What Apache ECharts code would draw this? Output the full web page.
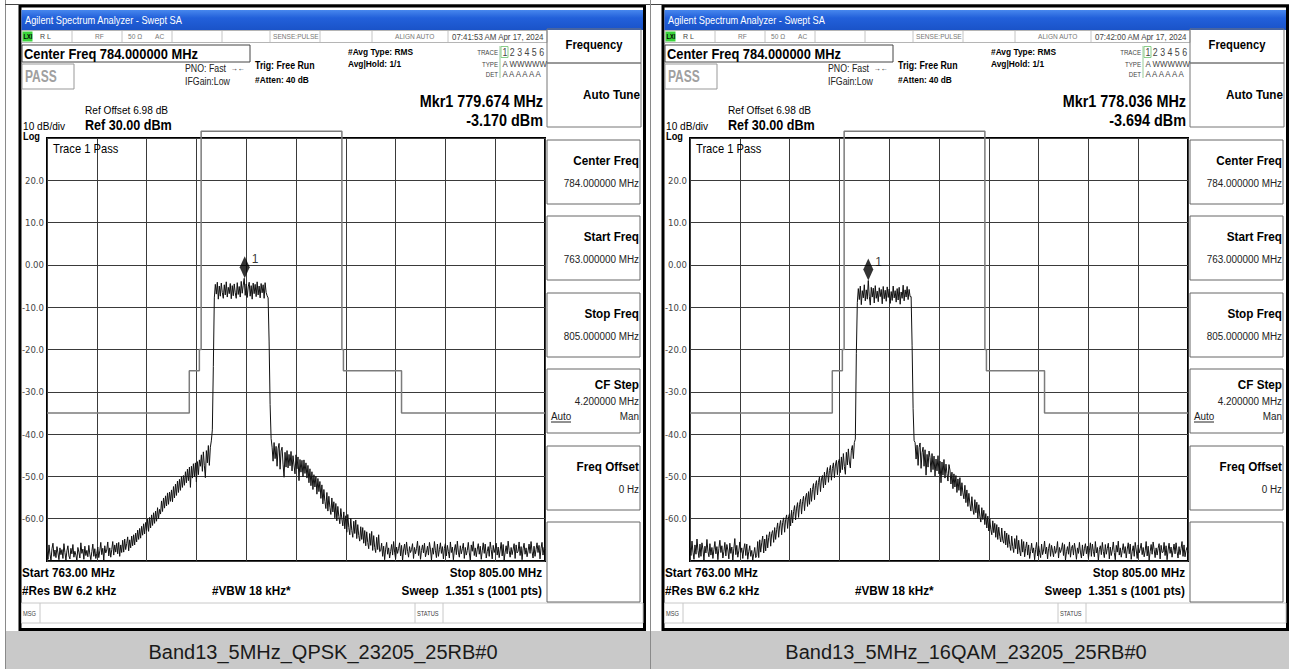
<!DOCTYPE html>
<html><head><meta charset="utf-8">
<script src="https://cdn.jsdelivr.net/npm/echarts@6/dist/echarts.min.js"></script>
<style>html,body{margin:0;padding:0;background:#fff;}#c{width:1289px;height:669px;}</style>
</head><body><div id="c"></div>
<script>
// ---------------- data ----------------
const FREQ_START = 763, FREQ_STOP = 805, SWEEP_STEP = 0.084; // every 2nd of the 1001 sweep points
const captions = ['Band13_5MHz_QPSK_23205_25RB#0', 'Band13_5MHz_16QAM_23205_25RB#0'];
const timestamps = ['07:41:53 AM Apr 17, 2024', '07:42:00 AM Apr 17, 2024'];
const markerFreqs = [779.674, 778.036];
const markerLevels = [-3.170, -3.694];
const limitFreqs  = [763, 775, 775, 775.85, 775.85, 776.0, 776.0, 787.87, 787.87, 788.0, 788.0, 792.9, 792.9, 805];
const limitLevels = [-35, -35, -25, -25, -20, -20, 31.6, 31.6, -20, -20, -25, -25, -35, -35];
const softkeyTitles = ['Center Freq', 'Start Freq', 'Stop Freq', 'CF Step', 'Freq Offset'];
const softkeyValues = ['784.000000 MHz', '763.000000 MHz', '805.000000 MHz', '4.200000 MHz', '0 Hz'];

const traceQPSK = [
-67.8,-69.6,-66.2,-68.4,-69.9,-67.1,-65.8,-68.9,-67.4,-69.2,
-66.6,-68.1,-69.7,-66.9,-68.5,-67.3,-69.4,-65.9,-68.0,-69.8,
-67.6,-66.4,-68.8,-69.5,-67.0,-68.3,-66.1,-69.1,-67.7,-68.6,
-69.9,-66.8,-67.9,-69.3,-65.7,-68.2,-67.2,-69.6,-66.5,-68.7,
-67.5,-69.0,-66.3,-68.4,-69.7,-67.8,-66.0,-68.9,-67.1,-69.4,
-68.2,-66.7,-69.2,-67.6,-65.6,-68.5,-67.0,-69.8,-66.4,-68.1,
-67.4,-65.5,-68.8,-66.9,-69.1,-67.3,-65.4,-68.6,-66.2,-67.9,
-65.8,-68.3,
-65.6,-68.9,-66.2,-68.0,-65.1,-67.9,-64.8,-67.3,-65.9,-64.3,-67.6,-65.0,-66.9,-64.1,-66.4,-63.8,
-66.2,-63.4,-65.5,-62.7,-64.9,-62.3,-64.6,-61.8,-63.9,-61.2,-63.6,-60.9,-62.8,
-60.1,-63.0,-59.7,-62.2,-59.1,-61.6,-58.6,-61.1,-58.2,-60.6,-57.4,-60.0,-57.8,
-58.9,-55.8,-58.3,-55.1,-57.5,-54.6,-57.0,-53.9,-56.6,-53.7,-55.9,
-53.2,-56.0,-52.4,-55.1,-51.8,-54.5,-51.1,-53.8,-50.7,-53.3,-50.0,-52.6,-49.8,
-52.1,-48.9,-51.5,-48.3,-51.0,-47.8,-52.6,-47.6,-50.4,-47.0,-50.1,-46.8,-51.3,-46.5,-49.6,-46.1,
-47.6,-44.9,-48.8,-44.2,-47.5,-50.3,-43.9,-46.8,-42.7,-47.4,-43.1,-41.6,
-39.0,-24.0,
-7.8,-4.6,-6.9,-4.1,-8.1,-5.0,-7.4,-4.3,-6.5,-7.9,
-4.7,-7.1,-4.0,-7.6,-5.3,-6.8,-4.4,-8.0,-4.9,-7.3,
-4.5,-6.6,-7.9,-4.2,-7.0,-5.1,-7.6,-3.9,-6.7,-4.8,
-3.17,-7.2,-4.5,-7.7,-5.2,-4.1,-7.4,-4.9,-8.1,-4.3,
-6.8,-4.6,-7.5,-4.0,-7.1,-5.0,-7.8,-4.4,-6.6,-4.7,
-7.9,-4.2,-6.5,-7.3,
-7.8,-18.0,-33.0,-41.0,
-43.1,-46.4,-42.0,-45.8,-42.9,-47.6,-43.5,-42.2,-48.3,-44.0,-43.1,-47.1,-50.2,-44.3,-47.8,
-43.9,-48.0,-44.8,-47.5,-44.1,-48.7,-45.1,-47.3,-49.4,-44.9,-48.2,-45.4,-51.0,-46.0,-49.0,-46.2,-50.1,-46.1,-49.3,-46.8,
-50.4,-47.4,-51.5,-48.2,-52.2,-48.9,-53.1,-49.6,-52.5,-50.0,-54.2,-50.5,-53.6,-51.2,
-55.2,-52.0,-56.5,-53.1,-55.9,-57.6,-53.8,-58.2,-54.7,-57.3,-59.0,-55.1,-58.4,-56.0,-59.8,-56.4,-60.5,-57.1,-59.5,-61.2,-57.6,-60.0,
-61.7,-58.4,-62.4,-59.3,-63.2,-59.0,-62.1,-63.8,-59.9,-62.8,-64.4,-60.6,-63.5,-60.3,-64.7,-61.4,-64.0,-65.3,-61.9,
-64.9,-62.1,-65.8,-62.8,-66.4,-63.1,-65.6,-67.1,-63.5,-66.3,-63.0,-67.5,-64.0,-66.8,-68.0,-64.4,-67.3,-63.8,-67.8,
-67.6,-65.8,-68.9,-66.5,-69.7,-67.2,-65.6,-68.4,-66.9,-69.3,
-67.8,-66.1,-68.6,-65.4,-67.9,-69.5,-66.7,-68.2,-67.0,-65.7,
-68.8,-66.3,-69.9,-67.4,-66.0,-68.5,-65.5,-67.7,-69.1,-66.6,
-68.0,-67.3,-65.9,-69.4,-66.8,-68.3,-67.1,-65.3,-68.7,-66.4,
-69.6,-67.5,-66.2,-68.1,-65.8,-69.0,-67.9,-66.5,-68.6,-65.6,
-67.2,-69.8,-66.9,-68.4,-65.4,-67.6,-69.2,-66.0,-68.9,-67.3,
-65.7,-68.2,-66.6,-69.5,-67.0,-65.9,-68.8,-66.3,-67.8,-69.3,
-65.5,-68.0,-66.7,-69.7,-67.4,-66.1,-68.5,-65.3,-67.9,-69.1,
-66.4,-68.3,-67.1,-65.8,-69.4,-66.8,-68.6,-67.5,-65.6,-68.1,
-69.9,-66.2,-67.7,-65.4,-68.7,-66.9,-69.0,-67.2,-65.9,-68.4,
-66.5,-69.6,-67.6,-65.7,-68.2,-66.0,-69.3,-67.8,-66.6,-68.9,
-65.5,-67.3,-69.5,-66.3,-68.0,-67.0,-65.8,-68.6,-66.7,-69.2,
-67.4,-65.6,-68.8,-66.1,-69.8,-67.9,-66.4,-68.3,-65.3,-67.5,
-69.1,-66.8,-68.5,-67.2,-65.9,-69.4,-66.2,-68.1,-67.7,-65.5,
-68.7,-66.6,-69.7,-67.1,-65.8,-68.4,-66.9,-69.0,-67.6,-66.0,
-68.2,-65.4,-67.8,-69.3,-66.5,-68.9,-67.3,-65.7,-68.0,-66.3,
-69.5,-67.0,-65.6,-68.6,-66.8,-67.4
];

const trace16QAM = [
-66.9,-68.7,-65.3,-67.9,-69.6,-66.2,-68.4,-64.8,-67.5,-69.2,
-66.0,-68.9,-65.7,-67.2,-69.8,-66.5,-68.1,-64.9,-67.7,-69.0,
-65.9,-68.6,-66.8,-69.4,-67.3,-65.4,-68.3,-66.6,-69.7,-67.0,
-65.1,-68.0,-66.4,-69.3,-67.8,-65.6,-68.8,-66.1,-67.4,-69.5,
-65.8,-68.2,-66.7,-69.9,-67.1,-64.7,-68.5,-66.3,-69.1,-67.6,
-65.5,-68.0,-66.9,-69.4,-67.2,-65.9,-68.7,-66.0,-69.6,-67.8,
-66.4,-68.9,-67.5,-69.8,-68.3,-66.8,-69.2,
-68.7,-65.4,-69.2,-65.0,-67.9,-65.7,-64.1,-68.1,-64.8,-67.6,-63.8,-66.9,-64.4,-63.1,-66.5,-63.5,-62.8,
-65.6,-62.1,-64.9,-62.6,-61.0,-64.4,-61.7,-60.4,-63.8,-60.9,-59.8,-63.2,-60.2,-59.1,-62.3,-59.5,-58.8,
-61.7,-58.0,-61.0,-58.3,-56.9,-60.3,-57.5,-56.2,-59.7,-56.6,-55.4,-58.9,-56.0,-54.7,-58.1,-55.1,-54.0,
-57.1,-53.6,-56.6,-52.8,-55.9,-53.1,-51.7,-55.5,-52.1,-51.0,-54.4,-51.4,-50.1,-53.6,-50.6,-49.8,
-52.7,-49.0,-52.0,-49.5,-47.9,-51.4,-48.6,-47.4,-50.9,-48.1,-46.8,-50.3,-47.3,-46.2,-49.6,-46.6,-45.9,
-49.1,-45.4,-48.4,-44.6,-47.7,-49.5,-44.3,-47.3,-43.5,-46.6,-48.0,-43.8,-42.7,-45.8,-42.0,
-41.2,-21.0,
-8.9,-5.6,-8.2,-5.0,-9.4,-6.1,-7.8,-4.7,-8.5,-5.9,
-8.1,-3.694,-7.4,-9.5,-5.3,-7.6,-5.5,-9.0,-4.9,-7.9,
-6.2,-8.7,-5.4,-7.5,-5.8,-9.2,-5.1,-8.0,-6.0,-8.6,
-5.2,-7.7,-5.7,-9.1,-6.3,-8.4,-5.0,-7.8,-6.1,-8.8,
-5.6,-8.3,-5.3,-9.3,-6.4,-7.9,-4.8,-8.5,-5.9,-7.6,
-5.1,-8.2,-5.8,-7.5,
-7.5,-19.0,-34.0,-41.5,
-42.0,-45.9,-42.6,-47.4,-43.2,-42.1,-48.1,-44.4,-43.1,-47.6,-43.7,-49.7,-44.8,-47.8,-44.0,
-45.5,-49.0,-44.6,-48.4,-45.2,-49.9,-45.9,-48.7,-45.1,-49.4,-46.4,-51.5,-46.6,-49.7,-46.0,-50.4,-47.1,-49.3,-51.1,-47.2,
-48.5,-51.8,-49.0,-52.9,-49.4,-52.5,-49.8,-53.8,-50.6,-53.3,-50.3,-54.6,-51.5,-53.9,
-55.3,-52.1,-56.2,-53.2,-57.1,-54.0,-56.5,-58.2,-54.8,-57.7,-59.0,-55.5,-58.6,-56.1,-59.9,-56.7,-59.4,-60.8,-57.4,-60.2,-58.0,-61.4,
-58.8,-62.2,-59.4,-62.9,-60.0,-62.5,-63.8,-60.5,-63.3,-61.1,-64.4,-61.4,-64.9,-62.0,-64.2,-65.5,-62.2,-65.1,-65.8,
-62.9,-66.2,-63.4,-66.8,-63.8,-66.1,-67.5,-64.1,-66.6,-68.0,-64.7,-67.1,-64.0,-68.3,-65.1,-67.6,-68.8,-64.9,-67.9,-65.4,-69.0,
-67.0,-65.5,-68.6,-66.2,-69.4,-67.7,-65.8,-68.1,-66.9,-69.7,
-67.3,-65.6,-68.8,-66.4,-67.9,-69.2,-66.0,-68.5,-67.4,-65.3,
-68.3,-66.7,-69.5,-67.1,-65.9,-68.9,-66.3,-67.6,-69.0,-66.5,
-68.2,-67.5,-65.4,-69.3,-66.8,-68.0,-67.2,-65.7,-68.7,-66.1,
-69.8,-67.8,-66.6,-68.4,-65.5,-69.1,-67.0,-66.3,-68.6,-65.8,
-67.4,-69.6,-66.9,-68.2,-65.6,-67.9,-69.3,-66.2,-68.8,-67.1,
-65.9,-68.3,-66.5,-69.4,-67.6,-65.7,-68.9,-66.0,-67.7,-69.0,
-65.4,-68.1,-66.8,-69.9,-67.3,-66.4,-68.5,-65.6,-67.8,-69.2,
-66.1,-68.4,-67.0,-65.8,-69.5,-66.7,-68.7,-67.4,-65.5,-68.0,
-69.7,-66.3,-67.9,-65.3,-68.6,-66.9,-69.1,-67.5,-65.9,-68.2,
-66.6,-69.3,-67.2,-65.7,-68.3,-66.0,-69.6,-67.7,-66.4,-68.9,
-65.6,-67.4,-69.4,-66.2,-68.1,-67.1,-65.8,-68.5,-66.8,-69.0,
-67.6,-65.4,-68.8,-66.5,-69.8,-67.8,-66.1,-68.4,-65.5,-67.3,
-69.2,-66.9,-68.6,-67.0,-65.9,-69.5,-66.3,-68.0,-67.9,-65.6,
-68.7,-66.4,-69.7,-67.4,-65.8,-68.2,-66.7,-69.1,-67.5,-66.0,
-68.3,-65.7,-67.7,-69.3,-66.6,-68.5,-67.1,-65.4,-68.9,-66.2,
-69.0,-67.6,-66.8,-68.1
];
const traces = [traceQPSK, trace16QAM];

// ---------------- rendering ----------------
const SANS = "'Liberation Sans',Arial,sans-serif";
const PANEL_DX = 643;

function panelGraphic(k) {
  const ch = [];
  const txt = (text, x, y, size, o = {}) => ch.push({type: 'text', z: 100, x, y, scaleX: o.sx || 0.88,
    style: {text, x: 0, y: 0, font: (o.bold ? 'bold ' : '') + size + 'px ' + SANS, lineHeight: size,
      fill: o.color || '#000', align: o.align || 'left', textAlign: o.align || 'left',
      verticalAlign: 'middle', textVerticalAlign: 'middle'}});
  const rect = (x, y, w, h, o = {}) => ch.push({type: 'rect', z: o.z || 50,
    shape: {x, y, width: w, height: h}, style: {fill: o.fill || 'none', stroke: o.stroke || null, lineWidth: o.lw || 1}});
  const line = (x1, y1, x2, y2, o = {}) => ch.push({type: 'line', z: o.z || 60,
    shape: {x1, y1, x2, y2}, style: {stroke: o.stroke || '#000', lineWidth: o.lw || 1}});

  // frame
  rect(20, 6, 624.5, 623.5, {stroke: '#000', lw: 3});
  // title bar
  ch.push({type: 'rect', z: 50, shape: {x: 21.5, y: 10, width: 621.5, height: 20},
    style: {fill: {type: 'linear', x: 0, y: 0, x2: 0, y2: 1, colorStops: [
      {offset: 0, color: '#4787ee'}, {offset: 0.4, color: '#2260da'}, {offset: 1, color: '#1a53c8'}]}}});
  txt('Agilent Spectrum Analyzer - Swept SA', 25, 20, 10.5, {color: '#fff'});
  // status row
  rect(22, 30.5, 525, 12, {stroke: '#b5b5b5', fill: '#fff'});
  [72, 122, 172, 222, 270, 320, 372, 448].forEach(x => line(x, 31, x, 42, {stroke: '#c4c4c4'}));
  rect(22.5, 31.5, 10, 10, {fill: '#3ad43a'});
  txt('LXI', 23.5, 36.5, 7, {bold: true, sx: 0.8});
  txt('R L', 40, 36.5, 8, {color: '#444'});
  txt('RF', 95, 36.5, 7.5, {color: '#777'});
  txt('50 Ω', 128, 36.5, 7.5, {color: '#777'});
  txt('AC', 155, 36.5, 7.5, {color: '#777'});
  txt('SENSE:PULSE', 273, 36.5, 7.5, {color: '#777'});
  txt('ALIGN AUTO', 395, 36.5, 7.5, {color: '#777'});
  txt(timestamps[k], 452, 36.5, 9, {color: '#444'});
  // center freq box
  rect(22, 45, 228, 17, {stroke: '#444'});
  txt('Center Freq 784.000000 MHz', 24, 53.5, 15, {bold: true, sx: 0.86});
  rect(22, 64, 52, 25, {stroke: '#999'});
  txt('PASS', 25, 76.5, 16, {bold: true, sx: 0.75, color: '#a0a0a0'});
  txt('PNO: Fast', 185, 68, 10, {color: '#222'});
  txt('→←', 231, 68, 8, {color: '#222'});
  txt('IFGain:Low', 185, 81, 10, {color: '#222'});
  txt('Trig: Free Run', 255, 65, 10, {bold: true});
  txt('#Atten: 40 dB', 255, 80, 9.5, {bold: true});
  txt('#Avg Type: RMS', 348, 52, 9.5, {bold: true});
  txt('Avg|Hold: 1/1', 348, 64, 9.5, {bold: true});
  // trace table
  line(500, 46, 500, 78, {stroke: '#9c9'});
  rect(501, 46.5, 7, 11, {stroke: '#8c8'});
  txt('TRACE', 498, 52, 7, {align: 'right', color: '#444'});
  txt('1 2 3 4 5 6', 502.5, 52, 10, {color: '#444'});
  txt('TYPE', 498, 64, 7, {align: 'right', color: '#444'});
  txt('A WWWWW', 502.5, 64, 9, {color: '#444'});
  txt('DET', 498, 74, 7, {align: 'right', color: '#444'});
  txt('A A A A A A', 502.5, 74, 9, {color: '#444'});
  // marker readout
  txt('Mkr1 ' + markerFreqs[k].toFixed(3) + ' MHz', 543, 101, 16, {bold: true, sx: 0.9, align: 'right'});
  txt(markerLevels[k].toFixed(3) + ' dBm', 543, 120, 16, {bold: true, sx: 0.9, align: 'right'});
  // ref info
  txt('Ref Offset 6.98 dB', 85, 110, 11.5);
  txt('10 dB/div', 23, 126, 11.5);
  txt('Ref 30.00 dBm', 85, 125, 14, {bold: true, sx: 0.9});
  txt('Log', 23, 136.5, 10.5, {bold: true});
  txt('Trace 1 Pass', 53, 149, 13, {sx: 0.86});
  // footer
  txt('Start 763.00 MHz', 22, 573, 13, {bold: true, sx: 0.9});
  txt('Stop 805.00 MHz', 542, 573, 13, {bold: true, sx: 0.9, align: 'right'});
  txt('#Res BW 6.2 kHz', 22, 591, 13, {bold: true, sx: 0.9});
  txt('#VBW 18 kHz*', 212, 591, 13, {bold: true, sx: 0.9});
  txt('Sweep  1.351 s (1001 pts)', 542, 591, 13, {bold: true, sx: 0.9, align: 'right'});
  rect(21.5, 603, 621.5, 20, {stroke: '#c8c8c8'});
  line(40, 603, 40, 623, {stroke: '#c8c8c8'});
  line(415, 603, 415, 623, {stroke: '#c8c8c8'});
  line(443, 603, 443, 623, {stroke: '#c8c8c8'});
  txt('MSG', 23, 613, 6.5, {color: '#444'});
  txt('STATUS', 417, 613, 6.5, {color: '#444'});
  // softkeys
  rect(547, 29, 94, 34, {stroke: '#777'});
  txt('Frequency', 594, 45, 12.5, {bold: true, sx: 0.9, align: 'center'});
  rect(547, 63, 94, 64, {stroke: '#777'});
  txt('Auto Tune', 640, 95, 13, {bold: true, sx: 0.9, align: 'right'});
  const boxTops = [140, 216, 293, 369, 446];
  boxTops.forEach((t, j) => {
    rect(547, t, 93, 64, {stroke: '#666'});
    txt(softkeyTitles[j], 639, t + (j === 3 ? 16 : 21), 13, {bold: true, sx: 0.9, align: 'right'});
    txt(softkeyValues[j], 639, t + (j === 3 ? 32 : 43), 11, {sx: 0.9, align: 'right', color: '#222'});
  });
  txt('Auto', 551, 416, 11, {sx: 0.9, color: '#222'});
  line(551, 422, 571, 422, {stroke: '#222'});
  txt('Man', 639, 416, 11, {sx: 0.9, align: 'right', color: '#222'});
  rect(547, 522, 93, 80, {stroke: '#666'});
  // caption
  txt(captions[k], 323, 652, 20, {align: 'center', sx: 1, color: '#1a1a1a'});
  return {type: 'group', x: k * PANEL_DX, y: 0, children: ch};
}

const chart = echarts.init(document.getElementById('c'), null, {renderer: 'svg'});
const grids = [0, 1].map(k => ({left: 47 + k * PANEL_DX, top: 138, width: 498, height: 423,
  show: true, borderColor: '#000', borderWidth: 2, backgroundColor: '#fff'}));
const xAxes = [0, 1].map(k => ({type: 'value', gridIndex: k, min: 0, max: FREQ_STOP - FREQ_START, interval: 4.2,
  axisLabel: {show: false}, axisTick: {show: false}, axisLine: {show: false},
  splitLine: {show: true, lineStyle: {color: '#3a3a3a', width: 1}}}));
const yAxes = [0, 1].map(k => ({type: 'value', gridIndex: k, min: -70, max: 30, interval: 10,
  axisTick: {show: false}, axisLine: {show: false},
  axisLabel: {fontSize: 9.5, color: '#444', margin: 3, fontFamily: "'DejaVu Sans Condensed',sans-serif",
    formatter: v => (v === 30 || v === -70) ? '' : (v === 0 ? '0.00' : v.toFixed(1))},
  splitLine: {show: true, lineStyle: {color: '#3a3a3a', width: 1}}}));
const series = [];
[0, 1].forEach(k => {
  series.push({type: 'line', xAxisIndex: k, yAxisIndex: k, clip: false, symbol: 'none', silent: true, z: 3,
    lineStyle: {color: '#7c7c7c', width: 1.5}, animation: false,
    data: limitFreqs.map((f, i) => [f - FREQ_START, limitLevels[i]])});
  series.push({type: 'line', xAxisIndex: k, yAxisIndex: k, symbol: 'none', silent: true, z: 4,
    lineStyle: {color: '#111', width: 1}, animation: false,
    data: traces[k].map((v, i) => [i * SWEEP_STEP, v])});
  series.push({type: 'scatter', xAxisIndex: k, yAxisIndex: k, z: 5, animation: false,
    symbol: 'diamond', symbolSize: [10, 22], symbolOffset: [0, -11], itemStyle: {color: '#000'},
    label: {show: true, position: 'right', distance: 2, offset: [0, -8], formatter: '1', fontSize: 12, color: '#000', fontFamily: SANS},
    data: [[markerFreqs[k] - FREQ_START, markerLevels[k]]]});
});

chart.setOption({
  animation: false,
  grid: grids, xAxis: xAxes, yAxis: yAxes, series,
  graphic: {elements: [
    {type: 'rect', z: 1, shape: {x: 5, y: 631, width: 1284, height: 38}, style: {fill: '#c9c9c9'}},
    {type: 'line', z: 60, shape: {x1: 5.5, y1: 0, x2: 5.5, y2: 669}, style: {stroke: '#8a8a8a', lineWidth: 1}},
    {type: 'line', z: 60, shape: {x1: 5, y1: 4.5, x2: 1289, y2: 4.5}, style: {stroke: '#444', lineWidth: 1}},
    {type: 'line', z: 60, shape: {x1: 650.5, y1: 0, x2: 650.5, y2: 669}, style: {stroke: '#8a8a8a', lineWidth: 1}},
    panelGraphic(0), panelGraphic(1)
  ]}
});
</script></body></html>
